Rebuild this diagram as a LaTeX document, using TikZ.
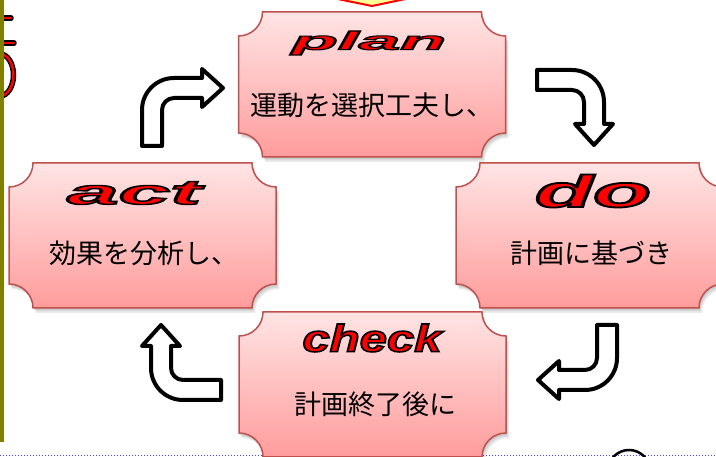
\documentclass[tikz,border=0pt]{standalone}
\usepackage{fontspec}
\usepackage{graphicx}
\usetikzlibrary{calc}
\newfontfamily\jpfont{Noto Sans CJK JP}
\newfontfamily\wafont{Liberation Sans Bold Italic}[FakeBold=4]
\definecolor{pinktop}{RGB}{255,228,228}
\definecolor{pinkbot}{RGB}{255,156,156}
\definecolor{boxline}{RGB}{192,80,77}
\definecolor{olivebar}{RGB}{128,128,0}
\definecolor{dotblue}{RGB}{70,70,255}
\definecolor{tipyellow}{RGB}{255,255,150}
\newcommand{\wordart}[3]{\resizebox*{#1}{#2}{\wafont\color{red}\special{pdf:literal direct 0 0 0 RG}#3}}
\tikzset{
  boxnode/.style={inner sep=0pt, outer sep=0pt, minimum width=267pt, minimum height=145pt},
  plaque/.style={insert path={
    ($(#1.north west)+(24,0)$) -- ($(#1.north east)+(-24,0)$)
    arc[start angle=180,end angle=90,radius=24]
    -- ($(#1.south east)+(0,-24)$)
    arc[start angle=270,end angle=180,radius=24]
    -- ($(#1.south west)+(24,0)$)
    arc[start angle=0,end angle=-90,radius=24]
    -- ($(#1.north west)+(0,24)$)
    arc[start angle=90,end angle=0,radius=24] -- cycle}},
  plaquefill/.style={draw=boxline, line width=1.5pt, top color=pinktop, bottom color=pinkbot},
  jp/.style={inner sep=0pt, font=\jpfont\fontsize{27}{30}\selectfont, text=black},
  wa/.style={inner sep=0pt},
  arrowline/.style={draw=black, fill=white, line width=4pt, line join=round},
  glyphout/.style={draw=black, line width=5.5pt, line cap=round},
  glyphin/.style={draw=red, line width=2.5pt, line cap=round}
}
\newcommand{\bentarrow}[5]{%
  \begin{scope}[shift={(#1,#2)}, rotate=#3, yscale=-1]
    \draw[arrowline] (-10,0) -- (-10,#4-22) arc[start angle=180,end angle=90,radius=32]
      -- (#5,#4+10) -- (#5,#4+19) -- (#5+21,#4) -- (#5,#4-19) -- (#5,#4-10)
      -- (22,#4-10) arc[start angle=90,end angle=180,radius=12] -- (10,0) -- cycle;
  \end{scope}}
\begin{document}
\begin{tikzpicture}[x=1pt,y=-1pt]
\useasboundingbox (0,0) rectangle (716,457);
\clip (0,0) rectangle (716,457);
% bottom dotted line and circle
\draw[dotblue, line width=1.3pt, dash pattern=on 1.3pt off 1.7pt] (0,455.5) -- (716,455.5);
\draw[line width=2.5pt] (629,471) circle[radius=21];
% box frames
\node[boxnode] (plan) at (372,84.5) {};
\node[boxnode] (do) at (589.5,235.5) {};
\node[boxnode] (act) at (142.5,235.5) {};
\node[boxnode] (check) at (372.5,384.5) {};
\foreach \b in {plan,do,act,check}{
  \fill[black, opacity=0.08, transform canvas={shift={(1,2)}}] [plaque=\b];
  \fill[black, opacity=0.08, transform canvas={shift={(2,3.5)}}] [plaque=\b];
  \fill[black, opacity=0.08, transform canvas={shift={(3,5)}}] [plaque=\b];
}
\foreach \b in {plan,do,act,check}{
  \path[plaquefill] [plaque=\b];
}
% texts
\node[wa] (planwa) at (369,43) {\wordart{154pt}{24pt}{plan}};
\node[jp] (planjp) at (372,105) {運動を選択工夫し、};
\node[wa] (dowa) at (593,191) {\wordart{116pt}{33pt}{do}};
\node[jp] (dojp) at (591,253) {計画に基づき};
\node[wa] (actwa) at (134,193) {\wordart{134pt}{23pt}{act}};
\node[jp] (actjp) at (144,253) {効果を分析し、};
\node[wa] (checkwa) at (372,338) {\wordart{139pt}{28pt}{check}};
\node[jp] (checkjp) at (375,404) {計画終了後に};
% bent arrows
\bentarrow{152}{146}{0}{58}{50}
\bentarrow{537}{80}{-90}{57}{44}
\bentarrow{607}{325}{180}{55}{48}
\bentarrow{221}{390}{90}{60}{44}
% top yellow arrow tip
\filldraw[draw=red, fill=tipyellow, line width=2pt, line join=round] (328,-3) -- (372,6) -- (415,-3);
% left red glyph fragments
\draw[glyphout] (-5,18) -- (11,18);
\draw[glyphout] (-5,43) -- (14,43);
\draw[glyphout] (0,54) arc[start angle=-90,end angle=90,x radius=13.5,y radius=21];
\draw[glyphin] (-5,18) -- (11,18);
\draw[glyphin] (-5,43) -- (14,43);
\draw[glyphin] (0,54) arc[start angle=-90,end angle=90,x radius=13.5,y radius=21];
% olive bar
\fill[olivebar] (0,0) rectangle (3.5,442);
\end{tikzpicture}
\end{document}
